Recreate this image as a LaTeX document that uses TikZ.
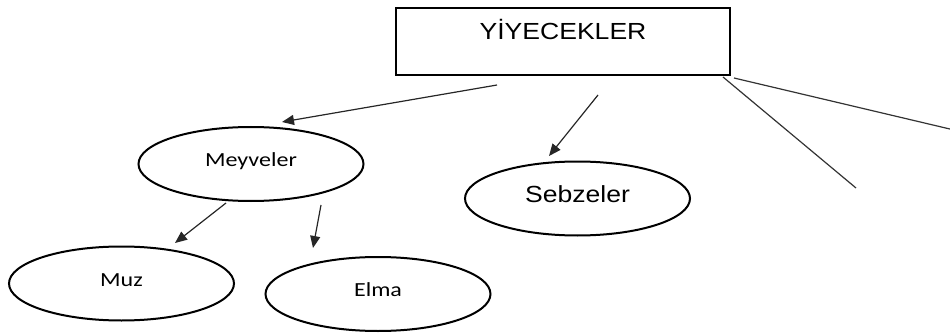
\documentclass[tikz,border=0pt]{standalone}
\usepackage{fontspec}
\newfontfamily\arialw[FakeStretch=1.14]{Liberation Sans}
\newfontfamily\calw[FakeStretch=1.2]{Carlito}
\usetikzlibrary{shapes.geometric,arrows.meta}
\begin{document}
\begin{tikzpicture}[x=1pt,y=-1pt,
  oval/.style={ellipse,draw=black,line width=2pt,minimum width=225pt,minimum height=74pt,inner sep=0pt},
  smalltxt/.style={font=\calw\fontsize{20}{20}\selectfont,text height=12pt,text depth=7pt},
  bigtxt/.style={font=\arialw\fontsize{23.3}{24}\selectfont,text height=17pt,text depth=10pt},
  arr/.style={draw=black!85,line width=1.2pt,-{Triangle[length=12pt,width=10pt]}},
  plain/.style={draw=black!80,line width=1.2pt}]
\useasboundingbox (0,0) rectangle (950,334);
\node[draw=black,line width=2.2pt,minimum width=334pt,minimum height=67pt,inner sep=0pt,
  font=\arialw\fontsize{23.3}{24}\selectfont,text height=17pt,text depth=20pt] (top) at (563,41.5) {YİYECEKLER};
\node[oval,smalltxt] (meyve) at (251,164) {Meyveler};
\node[oval,bigtxt] (sebze) at (577.5,198.5) {Sebzeler};
\node[oval,smalltxt] (muz) at (121.5,283.5) {Muz};
\node[oval,smalltxt] (elma) at (378,294) {Elma};
\coordinate (a1s) at (497,85);
\coordinate (a1e) at (282,122);
\coordinate (a2s) at (598,95);
\coordinate (a2e) at (549,156);
\coordinate (a3s) at (226,203);
\coordinate (a3e) at (175,243);
\coordinate (a4s) at (321,205);
\coordinate (a4e) at (313,248);
\coordinate (l1s) at (723,77);
\coordinate (l1e) at (856,188);
\coordinate (l2s) at (734,78);
\coordinate (l2e) at (952,129.5);
\draw[arr] (a1s) -- (a1e);
\draw[arr] (a2s) -- (a2e);
\draw[arr] (a3s) -- (a3e);
\draw[arr] (a4s) -- (a4e);
\draw[plain] (l1s) -- (l1e);
\draw[plain] (l2s) -- (l2e);
\end{tikzpicture}
\end{document}
